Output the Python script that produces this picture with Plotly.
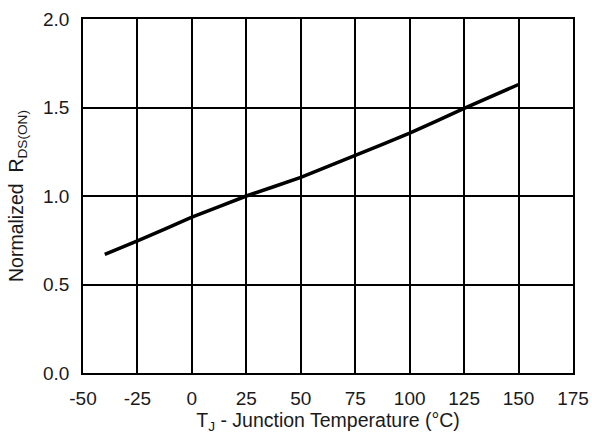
import plotly.graph_objects as go

temp_c = [-40, -25, 0, 25, 50, 75, 100, 125, 150]
rds_norm = [0.67, 0.746, 0.88, 1.0, 1.105, 1.23, 1.355, 1.495, 1.63]

x_ticks = [-50, -25, 0, 25, 50, 75, 100, 125, 150, 175]
y_ticks = [0.0, 0.5, 1.0, 1.5, 2.0]

fig = go.Figure()
fig.add_trace(go.Scatter(x=temp_c, y=rds_norm, mode="lines",
                         line=dict(color="black", width=3.5, shape="spline", smoothing=0.3),
                         showlegend=False, hoverinfo="skip"))

font = dict(family="Liberation Sans, Arial, sans-serif", size=19, color="#1a1a1a")
fig.update_layout(
    width=592, height=442,
    margin=dict(l=83, r=19, t=19, b=69),
    paper_bgcolor="white", plot_bgcolor="white",
    font=font,
)
fig.update_xaxes(
    range=[-50, 175], tickvals=x_ticks, ticktext=[str(v) for v in x_ticks],
    showgrid=True, gridcolor="black", gridwidth=1.6,
    showline=True, linecolor="black", linewidth=1.6, mirror=True,
    zeroline=False, ticks="outside", ticklen=7, tickcolor="rgba(0,0,0,0)",
    tickfont=dict(size=19), automargin=False,
    title=dict(text="T<sub>J</sub> - Junction Temperature (°C)", font=dict(size=19.5), standoff=6),
)
fig.update_yaxes(
    range=[0, 2.0], tickvals=y_ticks, ticktext=[f"{v:.1f}" for v in y_ticks],
    showgrid=True, gridcolor="black", gridwidth=1.6,
    showline=True, linecolor="black", linewidth=1.6, mirror=True,
    zeroline=False, ticks="outside", ticklen=8, tickcolor="rgba(0,0,0,0)",
    tickfont=dict(size=19), automargin=False,
    title=dict(text="Normalized  R<sub>DS(ON)</sub>", font=dict(size=19.5), standoff=14),
)
fig.write_html("out.html", config={"displayModeBar": False},
               post_script="document.body.style.margin='0';")
